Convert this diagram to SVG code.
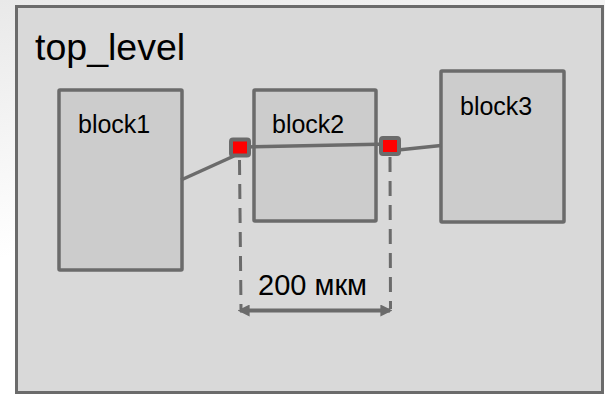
<svg xmlns="http://www.w3.org/2000/svg" width="605" height="395" viewBox="0 0 605 395">
  <defs>
    <linearGradient id="shade" x1="0" y1="0" x2="0.3" y2="1">
      <stop offset="0" stop-color="#e9e9e9"/>
      <stop offset="0.6" stop-color="#ffffff"/>
    </linearGradient>
    <marker id="arr" viewBox="0 0 10 10" refX="8" refY="5" markerWidth="3" markerHeight="3" orient="auto-start-reverse">
      <path d="M0,0 L10,5 L0,10 z" fill="#6b6b6b"/>
    </marker>
    <style>
      .frame { fill: #d9d9d9; stroke: #6b6b6b; stroke-width: 3; }
      .block { fill: #cccccc; stroke: #6b6b6b; stroke-width: 3.5; }
      .port { fill: #ff0000; stroke: #6b6b6b; stroke-width: 4; }
      .wire { stroke: #6b6b6b; stroke-width: 3.5; fill: none; }
      .dash { stroke: #6b6b6b; stroke-width: 3; fill: none; stroke-dasharray: 15 9; }
      .dim { stroke: #6b6b6b; stroke-width: 4; fill: none; }
      .lbl { font-family: "Liberation Sans", Arial, sans-serif; fill: #000; }
    </style>
  </defs>
  <rect x="0" y="0" width="605" height="395" fill="url(#shade)"/>
  <g id="top_level">
    <rect class="frame" x="16.5" y="6.5" width="586" height="386"/>
    <text class="lbl" x="35" y="60" font-size="37.5">top_level</text>
  </g>
  <g id="block1">
    <rect class="block" x="59" y="90" width="123" height="180" rx="1"/>
    <text class="lbl" x="78" y="133" font-size="25">block1</text>
  </g>
  <g id="block2">
    <rect class="block" x="254" y="90" width="122" height="131" rx="1"/>
    <text class="lbl" x="272" y="133" font-size="25">block2</text>
  </g>
  <g id="block3">
    <rect class="block" x="441" y="71" width="123" height="151" rx="1"/>
    <text class="lbl" x="460" y="115" font-size="25">block3</text>
  </g>
  <g id="connectors">
    <line class="wire" x1="181" y1="180" x2="234" y2="156"/>
    <line class="wire" x1="240" y1="147" x2="390" y2="144"/>
    <line class="wire" x1="398" y1="150" x2="441" y2="145.5"/>
    <line class="dash" x1="239.5" y1="160" x2="241" y2="309"/>
    <line class="dash" x1="390" y1="157" x2="390.5" y2="309"/>
    <line class="dim" x1="240" y1="310.5" x2="390" y2="310.5" marker-start="url(#arr)" marker-end="url(#arr)"/>
  </g>
  <g id="port1">
    <rect class="port" x="231" y="139.5" width="18" height="16" rx="2"/>
  </g>
  <g id="port2">
    <rect class="port" x="381" y="138" width="18" height="16" rx="2"/>
  </g>
  <g id="dimension">
    <text class="lbl" x="258" y="295" font-size="29">200 мкм</text>
  </g>
</svg>
